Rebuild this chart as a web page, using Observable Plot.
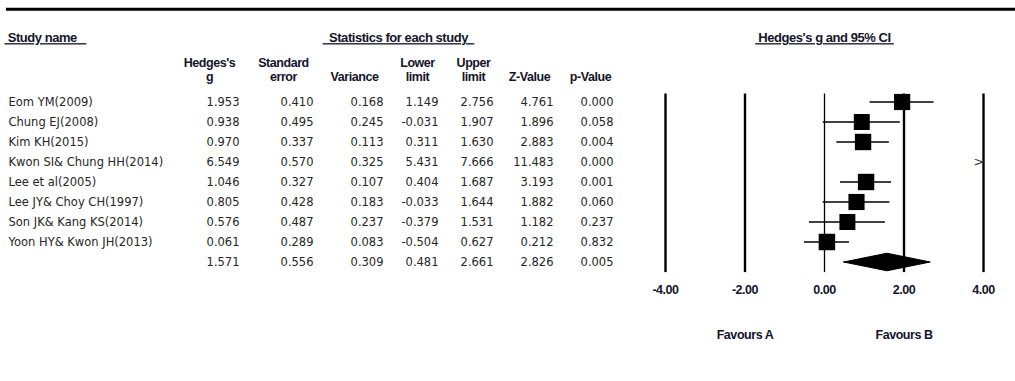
<!DOCTYPE html>
<html>
<head>
<meta charset="utf-8">
<script src="https://cdn.jsdelivr.net/npm/d3@7"></script>
<script src="https://cdn.jsdelivr.net/npm/@observablehq/plot@0.6"></script>
<style>
  body { margin: 0; background: #fff; }
  #chart svg { display: block; background: #fff; }
</style>
</head>
<body>
<div id="chart"></div>
<script>
// Study-level statistics (Hedges's g, random-effects meta-analysis)
const studies = [
  "Eom YM(2009)",
  "Chung EJ(2008)",
  "Kim KH(2015)",
  "Kwon SI& Chung HH(2014)",
  "Lee et al(2005)",
  "Lee JY& Choy CH(1997)",
  "Son JK& Kang KS(2014)",
  "Yoon HY& Kwon JH(2013)"
];
const hedgesG   = [1.953, 0.938, 0.970, 6.549, 1.046, 0.805, 0.576, 0.061];
const stdError  = [0.410, 0.495, 0.337, 0.570, 0.327, 0.428, 0.487, 0.289];
const variance  = [0.168, 0.245, 0.113, 0.325, 0.107, 0.183, 0.237, 0.083];
const lowerLim  = [1.149, -0.031, 0.311, 5.431, 0.404, -0.033, -0.379, -0.504];
const upperLim  = [2.756, 1.907, 1.630, 7.666, 1.687, 1.644, 1.531, 0.627];
const zValue    = [4.761, 1.896, 2.883, 11.483, 3.193, 1.882, 1.182, 0.212];
const pValue    = [0.000, 0.058, 0.004, 0.000, 0.001, 0.060, 0.237, 0.832];

// Pooled estimate
const pooled = { g: 1.571, se: 0.556, variance: 0.309, lower: 0.481, upper: 2.661, z: 2.826, p: 0.005 };

// Axis and side labels of the forest panel
const axisTicks = [-4, -2, 0, 2, 4];
const favourText = ["Favours A", "Favours B"];
const favourAt = [-2, 2];

// Column headings
const columnKeys = ["g", "se", "variance", "lower", "upper", "z", "p"];
const columnHeads = [
  ["Hedges's", "g"],
  ["Standard", "error"],
  ["", "Variance"],
  ["Lower", "limit"],
  ["Upper", "limit"],
  ["", "Z-Value"],
  ["", "p-Value"]
];

// ---- layout (pixels) ----
const colRight  = [239, 313, 383, 438, 493, 553, 613];
const colCenter = [209, 283, 354, 417, 473, 529, 590];
const headFont = "'Liberation Sans', Arial, sans-serif";
const bodyFont = "'DejaVu Sans', Tahoma, sans-serif";
const headColor = "#14142b";
const bodyColor = "#262626";

// Random-effects weights (DerSimonian-Laird) set the square sizes
const wFixed = variance.map(v => 1 / v);
const W = d3.sum(wFixed);
const meanFixed = d3.sum(hedgesG, (g, i) => wFixed[i] * g) / W;
const Q = d3.sum(hedgesG, (g, i) => wFixed[i] * (g - meanFixed) ** 2);
const C = W - d3.sum(wFixed, w => w * w) / W;
const tau2 = Math.max(0, (Q - (studies.length - 1)) / C);
const weight = variance.map(v => 1 / (v + tau2));

const studyRows = studies.map((name, i) => ({
  row: i, name,
  g: hedgesG[i], se: stdError[i], variance: variance[i],
  lower: lowerLim[i], upper: upperLim[i], z: zValue[i], p: pValue[i],
  weight: weight[i]
}));
const summaryRow = { row: studies.length, name: "", ...pooled };
const tableRows = [...studyRows, summaryRow];

const xMin = d3.min(axisTicks), xMax = d3.max(axisTicks);
const inView = studyRows.filter(d => d.g >= xMin && d.g <= xMax);
const ciRows = studyRows.filter(d => d.upper > xMin && d.lower < xMax);
const offRight = studyRows.filter(d => d.lower > xMax);

// Summary diamond
const half = 0.44;
const yS = summaryRow.row;
const diamond = [
  { x: pooled.lower, y: yS },
  { x: pooled.g, y: yS - half },
  { x: pooled.upper, y: yS },
  { x: pooled.g, y: yS + half },
  { x: pooled.lower, y: yS }
];

const bodyText = { fontFamily: bodyFont, fontSize: 11.5, fill: bodyColor };
const headText = { fontFamily: headFont, fontSize: 13, fontWeight: "bold", fill: headColor };

const numberColumns = columnKeys.map((key, j) =>
  Plot.text(tableRows, {
    y: "row", text: d => d[key].toFixed(3),
    frameAnchor: "left", dx: colRight[j], textAnchor: "end", ...bodyText
  })
);
const headLines = columnKeys.flatMap((key, j) => [
  Plot.text([columnHeads[j][0]], { frameAnchor: "top-left", dx: colCenter[j], dy: 62, textAnchor: "middle", lineAnchor: "middle", ...headText, fontSize: 12.5 }),
  Plot.text([columnHeads[j][1]], { frameAnchor: "top-left", dx: colCenter[j], dy: 76.5, textAnchor: "middle", lineAnchor: "middle", ...headText, fontSize: 12.5 })
]);

const sectionTitles = [
  "\u00a0Study name\u00a0\u00a0\u00a0",
  "\u00a0\u00a0Statistics for each study\u00a0\u00a0",
  "\u00a0Hedges's g and 95% CI\u00a0"
];

const chart = Plot.plot({
  width: 1015,
  height: 381,
  margin: 0,
  x: { domain: [xMin, xMax], range: [665, 983], axis: null },
  y: { domain: [0, studies.length], range: [101.5, 261.5], axis: null },
  r: { type: "sqrt", domain: [0, d3.max(weight)], range: [0, 9.3] },
  marks: [
    // heavy rule across the top
    Plot.frame({ anchor: "top", insetTop: 8.8, insetLeft: 7, strokeWidth: 3, stroke: "#000" }),

    // section titles
    Plot.text([sectionTitles[0]], { frameAnchor: "top-left", dx: 4, dy: 37.5, textAnchor: "start", lineAnchor: "middle", ...headText }),
    Plot.text([sectionTitles[1]], { frameAnchor: "top-left", dx: 398, dy: 37.5, textAnchor: "middle", lineAnchor: "middle", ...headText }),
    Plot.text([sectionTitles[2]], { x: 0, frameAnchor: "top", dy: 37.5, textAnchor: "middle", lineAnchor: "middle", ...headText }),

    ...headLines,

    // study names and statistics
    Plot.text(tableRows, { y: "row", text: "name", frameAnchor: "left", dx: 8, textAnchor: "start", ...bodyText }),
    ...numberColumns,

    // forest panel: reference lines
    Plot.ruleX(axisTicks.filter(t => t !== 0), { x: d => d, y1: -0.4, y2: 8.53, strokeWidth: 2.4, stroke: "#000" }),
    Plot.ruleX([0], { x: d => d, y1: -0.4, y2: 8.53, strokeWidth: 1.3, stroke: "#000" }),

    // confidence intervals and point estimates
    Plot.ruleY(ciRows, { y: "row", x1: d => Math.max(d.lower, xMin), x2: d => Math.min(d.upper, xMax), strokeWidth: 1.6, stroke: "#000" }),
    Plot.dot(inView, { x: "g", y: "row", r: "weight", symbol: "square", fill: "#000", stroke: "none" }),
    Plot.text(offRight, { x: xMax, y: "row", text: () => ">", dx: -4.5, fontFamily: bodyFont, fontSize: 13, fill: "#333" }),

    // pooled estimate
    Plot.line(diamond, { x: "x", y: "y", fill: "#000", stroke: "#000", strokeWidth: 1 }),

    // axis labels and side captions
    Plot.text(axisTicks, { x: d => d, text: d => d.toFixed(2), frameAnchor: "top", dy: 289, lineAnchor: "middle", ...headText, fontSize: 12.5 }),
    Plot.text(favourText, { x: (d, i) => favourAt[i], text: d => d, frameAnchor: "top", dy: 334, lineAnchor: "middle", ...headText, fontSize: 12.5 })
  ]
});

const svg = d3.select(chart);
// tighter tracking for the bold headings
svg.selectAll("g[font-weight='bold']").style("letter-spacing", "-0.45px");
svg.selectAll("text")
  .filter(function () { return sectionTitles.includes(this.textContent); })
  .style("text-decoration", "underline");

document.getElementById("chart").append(chart);
</script>
</body>
</html>
